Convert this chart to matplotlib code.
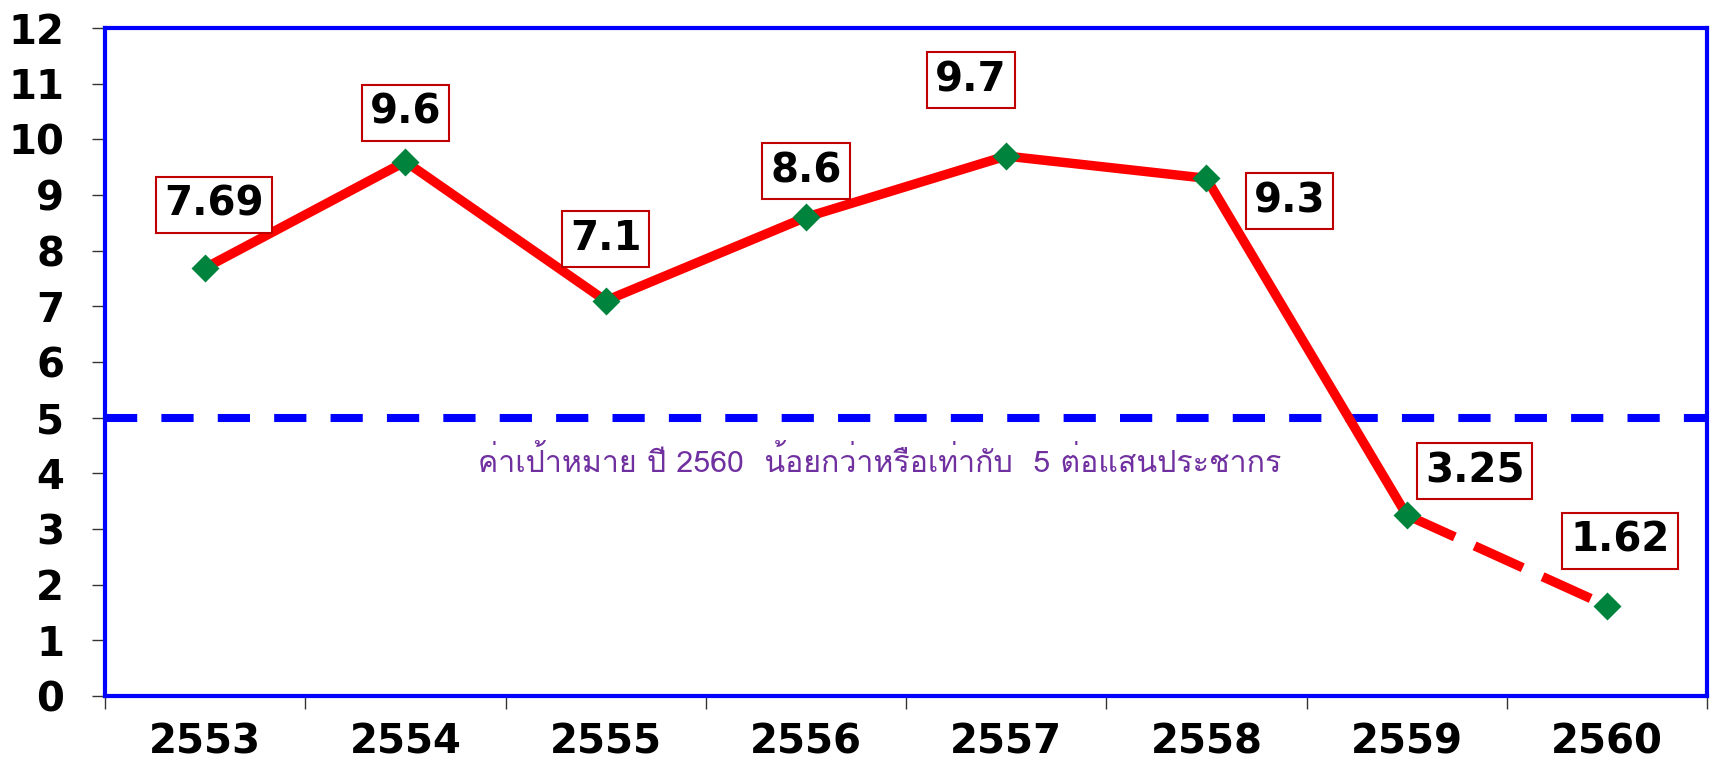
import numpy as np
import matplotlib
matplotlib.use('Agg')
import matplotlib.pyplot as plt
from matplotlib import font_manager
from matplotlib.ft2font import FT2Font

# ---- data ----
years = ['2553', '2554', '2555', '2556', '2557', '2558', '2559', '2560']
rates = [7.69, 9.6, 7.1, 8.6, 9.7, 9.3, 3.25, 1.62]
value_labels = ['7.69', '9.6', '7.1', '8.6', '9.7', '9.3', '3.25', '1.62']
target_value = 5
target_text = 'ค่าเป้าหมาย ปี 2560  น้อยกว่าหรือเท่ากับ  5 ต่อแสนประชากร'
y_ticks = list(range(0, 13))

# ---- layout (label box offsets in pixels) ----
label_offsets = [(9, 63), (0, 49), (0, 62), (0, 46), (-35, 76), (83, -23), (68, 44), (13, 65)]


def find_thai_font():
    best = None
    for f in font_manager.fontManager.ttflist:
        try:
            cmap = FT2Font(f.fname).get_charmap()
        except Exception:
            continue
        if 0x0E04 in cmap and 0x0E1B in cmap and 0x0E2B in cmap:
            if f.weight in ('normal', 400, 'regular') and f.style == 'normal':
                return f.name
            best = best or f.name
    return best


thai_font = find_thai_font()
num_font = ['DejaVu Sans']
num_size = 29

W, H = 1714, 761
fig = plt.figure(figsize=(W / 100, H / 100), dpi=100)
ax = fig.add_axes([105 / W, 1 - 696 / H, 1602 / W, 668 / H])

x = np.arange(len(years))
red = '#FF0000'
ax.plot(x[:7], rates[:7], color=red, lw=6.8, solid_capstyle='butt',
        solid_joinstyle='miter', zorder=3)
ax.plot(x[6:], rates[6:], color=red, lw=6.8, dashes=(5.6, 2.3),
        dash_capstyle='butt', zorder=3)
ax.plot(x, rates, linestyle='none', marker='D', color='#00843D', ms=14,
        mec='none', zorder=4)
ax.axhline(target_value, color='#0000FF', lw=5.8, dashes=(4, 3), zorder=2)

ax.set_xlim(-0.5, len(years) - 0.5)
ax.set_ylim(0, 12)
ax.set_yticks(y_ticks)
ax.set_yticklabels([str(v) for v in y_ticks], fontsize=num_size, fontweight='bold', family=num_font)
ax.set_xticks(x)
ax.set_xticklabels(years, fontsize=num_size, fontweight='bold', family=num_font)
ax.set_xticks(np.arange(-0.5, len(years)), minor=True)
ax.tick_params(axis='x', which='major', length=0, pad=19)
ax.tick_params(axis='x', which='minor', length=9, width=1.0, color='#333333', direction='out')
ax.tick_params(axis='y', which='major', length=9.4, width=1.0, color='#333333',
               direction='out', pad=20)
for s in ax.spines.values():
    s.set_color('#0000FF')
    s.set_linewidth(3)

for xi, yi, lbl, (dx, dy) in zip(x, rates, value_labels, label_offsets):
    ax.annotate(lbl, (xi, yi), xytext=(dx, dy), textcoords='offset pixels',
                ha='center', va='center', fontsize=num_size, fontweight='bold',
                family=num_font, color='black', zorder=5,
                bbox=dict(boxstyle='square,pad=0.2', fc='white', ec='#C00000', lw=1.5))

fam = [thai_font, 'DejaVu Sans'] if thai_font else ['DejaVu Sans']
tx = (880 - 105) / 1602 * len(years) - 0.5
ty = (696 - 462) / 668 * 12
t = ax.text(tx, ty, target_text, family=fam, fontsize=20, color='#7030A0',
            ha='center', va='center', zorder=5)
fig.canvas.draw()
bb = t.get_window_extent()
if bb.width > 0:
    t.set_fontsize(20 * 803 / bb.width)

fig.savefig('out.png', dpi=100)
